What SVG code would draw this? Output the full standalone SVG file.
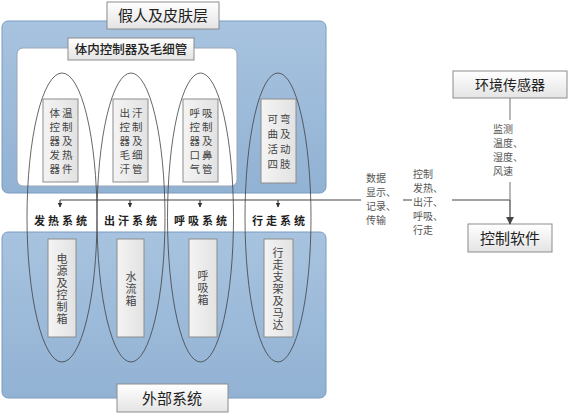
<svg xmlns="http://www.w3.org/2000/svg" width="569" height="416" viewBox="0 0 569 416">
<defs>
<linearGradient id="blue" x1="0" y1="0" x2="0" y2="1">
<stop offset="0" stop-color="#a7c3df"/><stop offset="1" stop-color="#92b2d4"/>
</linearGradient>
<linearGradient id="wg" x1="0" y1="0" x2="0" y2="1">
<stop offset="0" stop-color="#ffffff"/><stop offset="1" stop-color="#e4e4e4"/>
</linearGradient>
<linearGradient id="wg2" x1="0" y1="0" x2="1" y2="0">
<stop offset="0" stop-color="#f4f4f4"/><stop offset="1" stop-color="#e2e2e2"/>
</linearGradient>
<marker id="arr" viewBox="0 0 10 10" refX="9" refY="5" markerWidth="5" markerHeight="5" orient="auto" markerUnits="userSpaceOnUse">
<path d="M0,0 L10,5 L0,10 z" fill="#333"/>
</marker>
<marker id="arr2" viewBox="0 0 10 10" refX="9" refY="5" markerWidth="8" markerHeight="8" orient="auto" markerUnits="userSpaceOnUse">
<path d="M0,0 L10,5 L0,10 z" fill="#444"/>
</marker>
</defs>
<style>
.panel{fill:url(#blue);stroke:#7b9cc2;stroke-width:1}
.inner{fill:#ffffff;stroke:#9aa7b5;stroke-width:1}
.box{fill:url(#wg);stroke:#8c8c8c;stroke-width:1}
.vbox{fill:url(#wg2);stroke:#8c8c8c;stroke-width:1}
.ell{fill:none;stroke:#404040;stroke-width:0.8}
.t{font-family:"Noto Sans CJK SC","Noto Sans",sans-serif;fill:#222;text-anchor:middle}
.title{font-size:15px}
.vt{font-family:"Noto Sans CJK SC",sans-serif;font-size:11px;fill:#444;text-anchor:middle;writing-mode:vertical-rl;letter-spacing:1px}
.v2{font-family:"Noto Sans CJK SC",sans-serif;font-size:10.5px;fill:#444;text-anchor:middle;letter-spacing:2px}
.sys{font-family:"Noto Sans CJK SC",sans-serif;font-size:11px;font-weight:bold;fill:#222;text-anchor:middle;letter-spacing:3px}
.lbl{font-family:"Noto Sans CJK SC",sans-serif;font-size:10px;fill:#555;text-anchor:start}
.ln{fill:none;stroke:#444;stroke-width:1.2}
</style>

<g id="skin-layer">
<rect class="panel" x="2" y="21" width="324" height="172" rx="6"/>
<rect class="box" x="107" y="2" width="112" height="27"/>
<text class="t title" x="163" y="21">假人及皮肤层</text>
</g>

<g id="internal-controller">
<rect class="inner" x="17" y="48" width="220" height="138" rx="6"/>
<rect class="box" x="68" y="38" width="126" height="22"/>
<text class="t" font-size="12.5" font-weight="500" x="131" y="54">体内控制器及毛细管</text>
</g>

<g id="external-system">
<rect class="panel" x="2" y="232" width="324" height="166" rx="6"/>
<rect class="box" x="117" y="384" width="111" height="28"/>
<text class="t title" x="172" y="404">外部系统</text>
</g>

<g id="top-box-1">
<rect class="vbox" x="43" y="99" width="35" height="83"/>
<text class="v2"><tspan x="62" y="117">体温</tspan><tspan x="62" y="131">控制</tspan><tspan x="62" y="145">器及</tspan><tspan x="62" y="159">发热</tspan><tspan x="62" y="173">器件</tspan></text>
</g>
<g id="top-box-2">
<rect class="vbox" x="113" y="99" width="35" height="83"/>
<text class="v2"><tspan x="132" y="117">出汗</tspan><tspan x="132" y="131">控制</tspan><tspan x="132" y="145">器及</tspan><tspan x="132" y="159">毛细</tspan><tspan x="132" y="173">汗管</tspan></text>
</g>
<g id="top-box-3">
<rect class="vbox" x="183" y="99" width="35" height="83"/>
<text class="v2"><tspan x="202" y="117">呼吸</tspan><tspan x="202" y="131">控制</tspan><tspan x="202" y="145">器及</tspan><tspan x="202" y="159">口鼻</tspan><tspan x="202" y="173">气管</tspan></text>
</g>
<g id="top-box-4">
<rect class="vbox" x="261" y="99" width="35" height="84"/>
<text class="v2"><tspan x="280" y="123">可弯</tspan><tspan x="280" y="138">曲及</tspan><tspan x="280" y="153">活动</tspan><tspan x="280" y="168">四肢</tspan></text>
</g>

<g id="bottom-box-1">
<rect class="vbox" x="48" y="239" width="28" height="98"/>
<text class="vt" x="62" y="289">电源及控制箱</text>
</g>
<g id="bottom-box-2">
<rect class="vbox" x="117" y="239" width="27" height="98"/>
<text class="vt" x="131" y="289">水流箱</text>
</g>
<g id="bottom-box-3">
<rect class="vbox" x="189" y="239" width="28" height="98"/>
<text class="vt" x="203" y="288">呼吸箱</text>
</g>
<g id="bottom-box-4">
<rect class="vbox" x="264" y="239" width="29" height="98"/>
<text class="vt" x="278" y="289">行走支架及马达</text>
</g>

<g id="system-labels">
<text class="sys" x="62" y="225">发热系统</text>
<text class="sys" x="132" y="225">出汗系统</text>
<text class="sys" x="202" y="225">呼吸系统</text>
<text class="sys" x="280" y="225">行走系统</text>
</g>

<g id="ellipses">
<ellipse class="ell" cx="62" cy="217.5" rx="35" ry="144.5"/>
<ellipse class="ell" cx="131" cy="217.5" rx="34" ry="144.5"/>
<ellipse class="ell" cx="200.5" cy="217.5" rx="33" ry="144.5"/>
<ellipse class="ell" cx="278" cy="217.5" rx="33" ry="144.5"/>
</g>

<g id="env-sensor">
<rect class="box" x="453" y="71" width="114" height="27"/>
<text class="t" font-size="14" x="510" y="90">环境传感器</text>
</g>
<g id="control-software">
<rect class="box" x="468" y="224" width="84" height="28"/>
<text class="t title" x="510" y="244">控制软件</text>
</g>

<g id="connectors">
<path class="ln" d="M510,200 L60,200"/>
<path class="ln" d="M60,200 L60,207" marker-end="url(#arr)" stroke-width="1"/>
<path class="ln" d="M130,200 L130,207" marker-end="url(#arr)" stroke-width="1"/>
<path class="ln" d="M200,200 L200,207" marker-end="url(#arr)" stroke-width="1"/>
<path class="ln" d="M278,200 L278,207" marker-end="url(#arr)" stroke-width="1"/>
<path d="M510,98 L510,200" fill="none" stroke="#888" stroke-width="1.2"/>
<path class="ln" d="M510,200 L510,224" marker-end="url(#arr2)"/>
<rect x="361" y="168" width="42" height="62" fill="#ffffff"/>
<text class="lbl"><tspan x="366" y="182">数据</tspan><tspan x="366" y="196">显示、</tspan><tspan x="366" y="210">记录、</tspan><tspan x="366" y="224">传输</tspan></text>
<rect x="412" y="164" width="40" height="72" fill="#ffffff"/>
<text class="lbl"><tspan x="413" y="178">控制</tspan><tspan x="413" y="192">发热、</tspan><tspan x="413" y="206">出汗、</tspan><tspan x="413" y="220">呼吸、</tspan><tspan x="413" y="234">行走</tspan></text>
<rect x="490" y="120" width="36" height="62" fill="#ffffff"/>
<text class="lbl"><tspan x="493" y="133">监测</tspan><tspan x="493" y="147">温度、</tspan><tspan x="493" y="161">湿度、</tspan><tspan x="493" y="175">风速</tspan></text>
</g>
</svg>
